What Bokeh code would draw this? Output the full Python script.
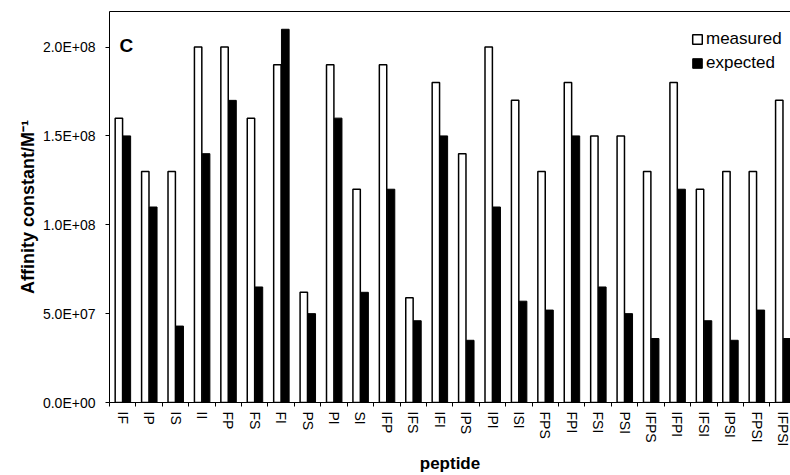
import numpy as np
from bokeh.plotting import figure
from bokeh.models import (ColumnDataSource, Range1d, FixedTicker, LinearAxis,
                          Legend, LegendItem, Label)
from bokeh.transform import dodge
from bokeh.embed import file_html
from bokeh.resources import INLINE

peptides = ["IF", "IP", "IS", "II", "FP", "FS", "FI", "PS", "PI", "SI",
            "IFP", "IFS", "IFI", "IPS", "IPI", "ISI", "FPS", "FPI", "FSI", "PSI",
            "IFPS", "IFPI", "IFSI", "IPSI", "FPSI", "IFPSI"]
measured = [1.6e8, 1.3e8, 1.3e8, 2.0e8, 2.0e8, 1.6e8, 1.9e8, 6.2e7, 1.9e8, 1.2e8,
            1.9e8, 5.9e7, 1.8e8, 1.4e8, 2.0e8, 1.7e8, 1.3e8, 1.8e8, 1.5e8, 1.5e8,
            1.3e8, 1.8e8, 1.2e8, 1.3e8, 1.3e8, 1.7e8]
expected = [1.5e8, 1.1e8, 4.3e7, 1.4e8, 1.7e8, 6.5e7, 2.1e8, 5.0e7, 1.6e8, 6.2e7,
            1.2e8, 4.6e7, 1.5e8, 3.5e7, 1.1e8, 5.7e7, 5.2e7, 1.5e8, 6.5e7, 5.0e7,
            3.6e7, 1.2e8, 4.6e7, 3.5e7, 5.2e7, 3.6e7]
y_ticks = [0, 5e7, 1e8, 1.5e8, 2e8]
y_tick_labels = ["0.0E+00", "5.0E+07", "1.0E+08", "1.5E+08", "2.0E+08"]

FONT = "Liberation Sans"

idx = np.arange(len(peptides))
centers = idx + 0.5
bounds = np.arange(len(peptides) + 1).astype(float)

src = ColumnDataSource(dict(x=centers, peptide=peptides,
                            measured=measured, expected=expected))

p = figure(width=790, height=475, output_backend="svg", toolbar_location=None,
           x_range=Range1d(0, 25.78), y_range=Range1d(0, 2.2e8),
           min_border_left=109, min_border_right=0, min_border_top=11,
           min_border_bottom=73)
p.outline_line_color = None
p.xgrid.visible = False
p.ygrid.visible = False
p.background_fill_color = "white"
p.border_fill_color = "white"

r1 = p.vbar(x=dodge("x", -0.145, range=p.x_range), top="measured", width=0.28,
            source=src, fill_color="white", line_color="black", line_width=1.5)
r2 = p.vbar(x=dodge("x", 0.155, range=p.x_range), top="expected", width=0.29,
            source=src, fill_color="black", line_color="black", line_width=1)

# x axis
xa = p.xaxis[0]
xa.ticker = FixedTicker(ticks=list(centers), minor_ticks=list(bounds))
xa.major_label_overrides = {float(c): name for c, name in zip(centers, peptides)}
xa.major_tick_line_color = None
xa.major_tick_out = 4
xa.major_tick_in = 0
xa.minor_tick_line_color = "black"
xa.minor_tick_out = 4
xa.minor_tick_in = 0
xa.major_label_orientation = "vertical"
xa.major_label_standoff = 5
xa.major_label_text_font = FONT
xa.major_label_text_font_size = "14px"
xa.major_label_text_color = "black"
xa.axis_line_color = "black"
xa.axis_label = "peptide"
xa.axis_label_text_font = FONT
xa.axis_label_text_font_style = "bold"
xa.axis_label_text_font_size = "17px"
xa.axis_label_text_color = "black"
xa.axis_label_standoff = 4

# y axis
ya = p.yaxis[0]
ya.ticker = FixedTicker(ticks=y_ticks, minor_ticks=[])
ya.major_label_overrides = {float(t): l for t, l in zip(y_ticks, y_tick_labels)}
ya.major_tick_out = 4
ya.major_tick_in = 0
ya.major_tick_line_color = "black"
ya.minor_tick_line_color = None
ya.major_label_standoff = 10
ya.major_label_text_font = FONT
ya.major_label_text_font_size = "14px"
ya.major_label_text_color = "black"
ya.axis_line_color = "black"
ya.axis_label = "Affinity constant/M\u207b\u00b9"
ya.axis_label_text_font = FONT
ya.axis_label_text_font_style = "bold"
ya.axis_label_text_font_size = "18px"
ya.axis_label_text_color = "black"
ya.axis_label_standoff = 2

# top frame line
top = LinearAxis(ticker=FixedTicker(ticks=[]), major_tick_line_color=None,
                 minor_tick_line_color=None, major_label_text_font_size="0px",
                 major_label_standoff=0, axis_line_color="black")
p.add_layout(top, "above")

legend = Legend(items=[LegendItem(label="measured", renderers=[r1]),
                       LegendItem(label="expected", renderers=[r2])],
                location=(582, 329))
legend.border_line_color = None
legend.background_fill_alpha = 0
legend.label_text_font = FONT
legend.label_text_font_size = "17px"
legend.label_text_color = "black"
legend.glyph_width = 12
legend.glyph_height = 12
legend.label_standoff = 3
legend.label_height = 20
legend.spacing = 4
legend.margin = 0
legend.padding = 0
p.add_layout(legend)

p.add_layout(Label(x=10, y=357, x_units="screen", y_units="screen", text="C",
                   text_font=FONT, text_font_style="bold", text_font_size="19px",
                   text_color="black", text_baseline="alphabetic"))

open("out.html", "w").write(file_html(p, INLINE))
